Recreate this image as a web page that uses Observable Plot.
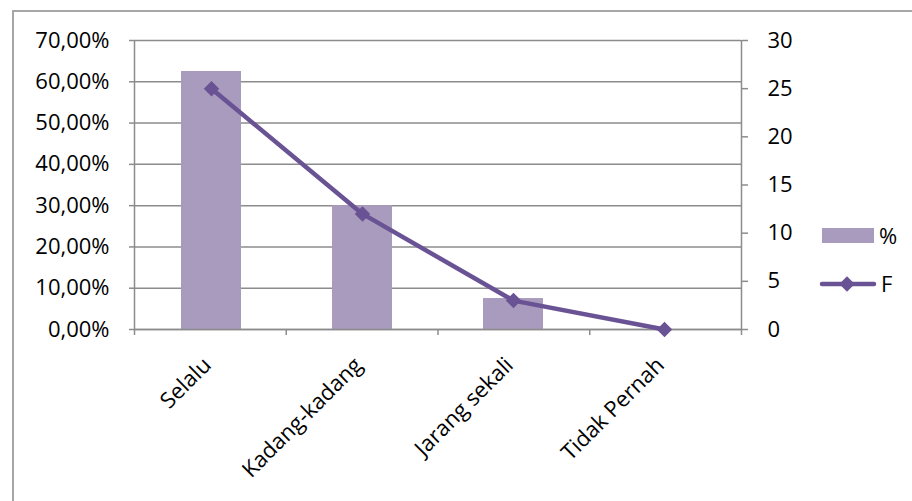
<!DOCTYPE html>
<html>
<head>
<meta charset="utf-8">
<script src="https://cdn.jsdelivr.net/npm/d3@7"></script>
<script src="https://cdn.jsdelivr.net/npm/@observablehq/plot@0.6"></script>
<style>
  html, body { margin: 0; padding: 0; background: #fff; }
  #chart { position: relative; width: 912px; height: 501px; overflow: hidden; font-family: "Open Sans", sans-serif; }
  #chart > svg, #chart > .layer { position: absolute; left: 0; top: 0; }
  #border { position: absolute; left: 12px; top: 10px; right: -4px; bottom: -4px; border-left: 2px solid #a6a6a6; border-top: 2px solid #a6a6a6; }
</style>
</head>
<body>
<div id="chart"><div id="border"></div></div>
<script>
const categories = ["Selalu", "Kadang-kadang", "Jarang sekali", "Tidak Pernah"];
const percentValues = [0.625, 0.30, 0.075, 0];
const freqValues = [25, 12, 3, 0];
const leftTicks = [0, 0.1, 0.2, 0.3, 0.4, 0.5, 0.6, 0.7];
const rightTicks = [0, 5, 10, 15, 20, 25, 30];
const legendLabels = ["%", "F"];

const barColor = "#A99BBD";
const lineColor = "#6A5394";
const axisGray = "#8c8c8c";

const data = categories.map((c, i) => ({cat: c, pct: percentValues[i], f: freqValues[i]}));
const boundaries = d3.range(categories.length + 1);

const W = 912, H = 501;
const M = {marginLeft: 134, marginRight: 171, marginTop: 40, marginBottom: 172};
const FS = 22;
const font = {fontFamily: "'Open Sans', sans-serif", fontSize: FS + "px", color: "#000", background: "transparent", overflow: "visible"};
const pctFormat = d => (d * 100).toFixed(2).replace(".", ",") + "%";

const chart = document.getElementById("chart");

// Layer 1: gridlines, bars, left axis, category labels
const p1 = Plot.plot({
  width: W, height: H, ...M, style: font,
  x: {domain: categories, paddingInner: 0.6, paddingOuter: 0.3, axis: null},
  y: {domain: [0, 0.7], axis: null},
  marks: [
    Plot.gridY(leftTicks, {stroke: axisGray, strokeOpacity: 1, strokeWidth: 1.5}),
    Plot.barY(data, {x: "cat", y: "pct", fill: barColor}),
    Plot.axisY({ticks: leftTicks, tickFormat: pctFormat, anchor: "left", label: null, tickSize: 5, tickPadding: 20, stroke: axisGray, strokeWidth: 1.5, fill: "#000", fontSize: FS}),
    Plot.axisX({anchor: "bottom", label: null, tickRotate: -45, tickSize: 0, tickPadding: 32, dx: -4, fill: "#000", fontSize: FS})
  ]
});
chart.appendChild(p1);

// Layer 2: axis lines and category boundary ticks
const p2 = Plot.plot({
  width: W, height: H, ...M, style: font,
  x: {domain: [0, categories.length], axis: null},
  y: {domain: [0, 0.7], axis: null},
  marks: [
    Plot.ruleX([0, categories.length], {stroke: axisGray, strokeWidth: 1.5}),
    Plot.ruleY([0], {stroke: axisGray, strokeWidth: 1.5}),
    Plot.axisX({ticks: boundaries, tickFormat: () => "", label: null, tickSize: 6, stroke: axisGray, strokeWidth: 1.5})
  ]
});
chart.appendChild(p2);

// Layer 3: frequency line on the right axis
const p3 = Plot.plot({
  width: W, height: H, ...M, style: font,
  x: {domain: categories, paddingInner: 0.6, paddingOuter: 0.3, axis: null},
  y: {domain: [0, 30], axis: null},
  marks: [
    Plot.axisY({ticks: rightTicks, anchor: "right", label: null, tickSize: 6, tickPadding: 20, stroke: axisGray, strokeWidth: 1.5, fill: "#000", fontSize: FS}),
    Plot.line(data, {x: "cat", y: "f", stroke: lineColor, strokeWidth: 4.5}),
    Plot.dot(data, {x: "cat", y: "f", symbol: "diamond2", r: 7, fill: lineColor, stroke: "none"})
  ]
});
chart.appendChild(p3);

// Legend
const lg = d3.select(chart).append("svg").attr("class", "layer").attr("width", W).attr("height", H)
  .style("font-family", "'Open Sans', sans-serif").style("font-size", FS + "px");
lg.append("rect").attr("x", 822).attr("y", 228).attr("width", 52).attr("height", 15).attr("fill", barColor);
lg.append("text").attr("x", 879).attr("y", 236).attr("dy", "0.35em").text(legendLabels[0]);
lg.append("line").attr("x1", 822).attr("x2", 874).attr("y1", 284).attr("y2", 284)
  .attr("stroke", lineColor).attr("stroke-width", 4.5).attr("stroke-linecap", "round");
lg.append("path").attr("d", d3.symbol(d3.symbolDiamond2, Math.PI * 49)()).attr("transform", "translate(847,284)").attr("fill", lineColor);
lg.append("text").attr("x", 881).attr("y", 284).attr("dy", "0.35em").text(legendLabels[1]);
</script>
</body>
</html>
